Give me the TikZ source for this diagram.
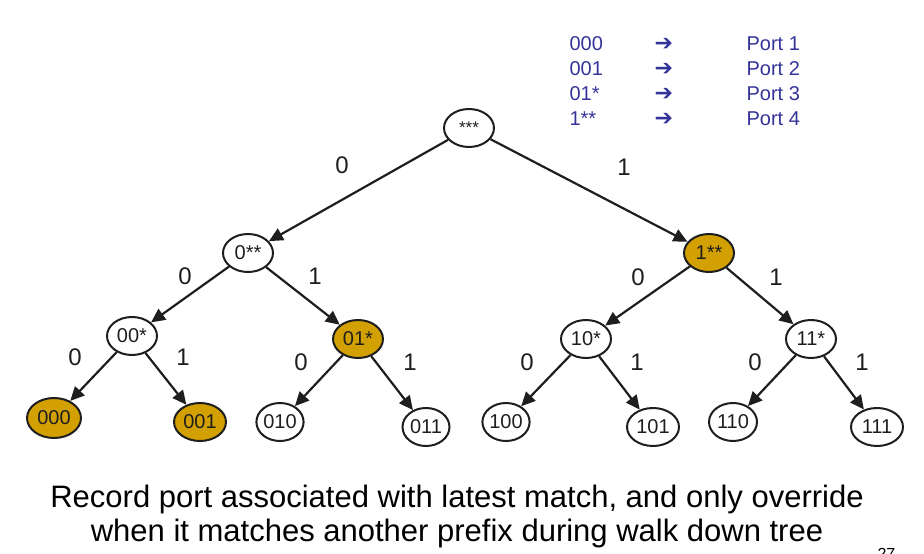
\documentclass[tikz,border=0pt]{standalone}
\usepackage{fontspec}
\setmainfont{Liberation Sans}
\newfontfamily\arrowfont{DejaVu Sans}
\usetikzlibrary{arrows.meta, shapes}

\definecolor{prefixgold}{RGB}{210,160,0}
\definecolor{tableblue}{RGB}{51,51,153}
\definecolor{edgegray}{RGB}{30,30,30}

\begin{document}
\begin{tikzpicture}[x=1pt,y=-1pt]
		\tikzstyle{every node} = [font = \fontsize{20}{22}\selectfont, text=edgegray]
		\tikzstyle{trie} = [draw=edgegray, line width=2pt, ellipse, minimum width=50pt, minimum height=38pt, inner sep=0pt]
		\tikzstyle{hit} = [trie, fill=prefixgold]
		\tikzstyle{branch} = [draw=edgegray, line width=2.2pt, -{Triangle[length=14pt,width=13pt]}]
		\tikzstyle{bit} = [font = \fontsize{24}{26}\selectfont]
		\tikzstyle{legend} = [text=tableblue, anchor=west, font = \fontsize{20}{22}\selectfont]
		\useasboundingbox (0,0) rectangle (924,554);
				% routing table
				\node[legend] (p1) at (566,44) {000};
				\node[legend] (p2) at (566,69) {001};
				\node[legend] (p3) at (566,94) {01*};
				\node[legend] (p4) at (566,119) {1**};
				\node[legend, font = \fontsize{22}{22}\selectfont\bfseries] (a1) at (651,44) {\arrowfont ➔};
				\node[legend, font = \fontsize{22}{22}\selectfont\bfseries] (a2) at (651,69) {\arrowfont ➔};
				\node[legend, font = \fontsize{22}{22}\selectfont\bfseries] (a3) at (651,94) {\arrowfont ➔};
				\node[legend, font = \fontsize{22}{22}\selectfont\bfseries] (a4) at (651,119) {\arrowfont ➔};
				\node[legend] (q1) at (743,44) {Port 1};
				\node[legend] (q2) at (743,69) {Port 2};
				\node[legend] (q3) at (743,94) {Port 3};
				\node[legend] (q4) at (743,119) {Port 4};
				% trie
				\node[trie, font = \fontsize{17}{20}\selectfont] (root) at (469,128) {***};
				\node[trie] (n0) at (248,253) {0**};
				\node[hit] (n1) at (709,253) {1**};
				\node[trie] (n00) at (132,336) {00*};
				\node[hit] (n01) at (358,339) {01*};
				\node[trie] (n10) at (586,339) {10*};
				\node[trie] (n11) at (811,339) {11*};
				\node[hit, minimum width=54pt, minimum height=40pt] (n000) at (54,418) {000};
				\node[hit, minimum width=52pt] (n001) at (200,422) {001};
				\node[trie, minimum width=47pt] (n010) at (280,422) {010};
				\node[trie, minimum width=47pt] (n011) at (426,427) {011};
				\node[trie, minimum width=47pt] (n100) at (506,422) {100};
				\node[trie, minimum width=52pt] (n101) at (653,427) {101};
				\node[trie, minimum width=48pt] (n110) at (733,422) {110};
				\node[trie, minimum width=52pt] (n111) at (877,427) {111};
				\path[branch] (root)--(n0);
				\path[branch] (root)--(n1);
				\path[branch] (n0)--(n00);
				\path[branch] (n0)--(n01);
				\path[branch] (n1)--(n10);
				\path[branch] (n1)--(n11);
				\path[branch] (n00)--(n000);
				\path[branch] (n00)--(n001);
				\path[branch] (n01)--(n010);
				\path[branch] (n01)--(n011);
				\path[branch] (n10)--(n100);
				\path[branch] (n10)--(n101);
				\path[branch] (n11)--(n110);
				\path[branch] (n11)--(n111);
				% bit labels
				\node[bit] (b0) at (342,165) {0};
				\node[bit] (b1) at (624,167) {1};
				\node[bit] (b00) at (185,276) {0};
				\node[bit] (b01) at (315,276) {1};
				\node[bit] (b10) at (638,277) {0};
				\node[bit] (b11) at (776,277) {1};
				\node[bit] (b000) at (75,357) {0};
				\node[bit] (b001) at (183,357) {1};
				\node[bit] (b010) at (301,362) {0};
				\node[bit] (b011) at (410,362) {1};
				\node[bit] (b100) at (527,362) {0};
				\node[bit] (b101) at (637,362) {1};
				\node[bit] (b110) at (755,362) {0};
				\node[bit] (b111) at (862,362) {1};
				% caption
				\node[font = \fontsize{31}{34}\selectfont, align=center, text=black] (caption) at (457,516)
					{Record port associated with latest match, and only override\\when it matches another prefix during walk down tree};
				\node[font = \fontsize{16}{18}\selectfont, anchor=north west, text=black] (page) at (874,545) {27};
	\end{tikzpicture}
\end{document}
